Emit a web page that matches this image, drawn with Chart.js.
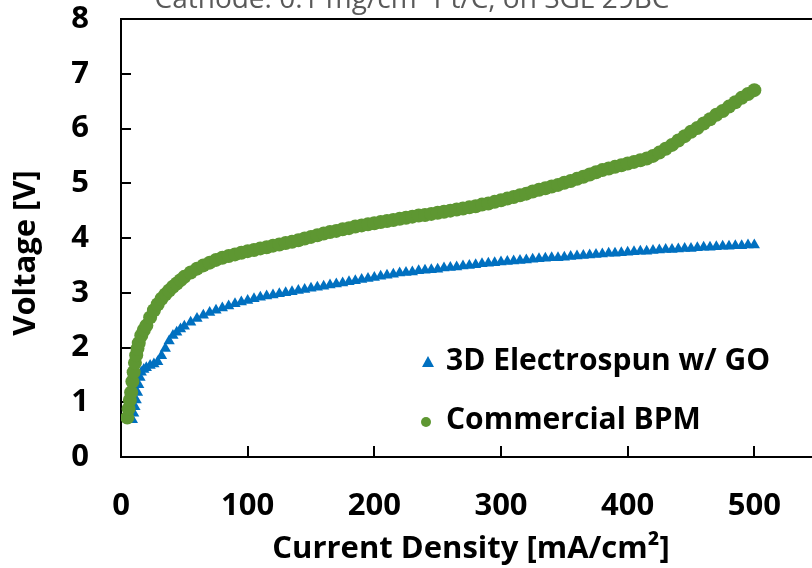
<!DOCTYPE html>
<html><head><meta charset="utf-8">
<script src="https://cdn.jsdelivr.net/npm/chart.js@4/dist/chart.umd.min.js"></script>
<style>html,body{margin:0;padding:0;background:#fff}#wrap{width:812px;height:568px;position:relative}</style>
</head><body><div id="wrap"><canvas id="c" width="812" height="568"></canvas></div>
<script>
const chartTitle = 'Cathode: 0.1 mg/cm² Pt/C, on SGL 29BC';
const xAxisTitle = 'Current Density [mA/cm²]';
const yAxisTitle = 'Voltage [V]';
const seriesNames = ['3D Electrospun w/ GO', 'Commercial BPM'];
const seriesColors = ['#0070C0', '#5E9732'];
const xTickValues = [0, 100, 200, 300, 400, 500];
const yTickValues = [0, 1, 2, 3, 4, 5, 6, 7, 8];

const currentGO = [9,10,11,12,13,14,15,16,18,20,23,26,29,32,35,38,41,44,47,50,55,60,65,70,75,80,85,90,95,100,105,110,115,120,125,130,135,140,145,150,155,160,165,170,175,180,185,190,195,200,205,210,215,220,225,230,235,240,245,250,255,260,265,270,275,280,285,290,295,300,305,310,315,320,325,330,335,340,345,350,355,360,365,370,375,380,385,390,395,400,405,410,415,420,425,430,435,440,445,450,455,460,465,470,475,480,485,490,495,500];
const voltageGO = [0.68,0.80,0.92,1.04,1.18,1.32,1.45,1.55,1.60,1.63,1.67,1.70,1.74,1.85,1.98,2.12,2.22,2.28,2.34,2.39,2.46,2.53,2.59,2.64,2.68,2.72,2.76,2.80,2.83,2.86,2.89,2.92,2.94,2.96,2.98,3.00,3.02,3.04,3.06,3.08,3.10,3.12,3.14,3.16,3.18,3.20,3.22,3.24,3.26,3.28,3.30,3.32,3.34,3.36,3.37,3.38,3.40,3.41,3.42,3.43,3.45,3.46,3.47,3.49,3.50,3.51,3.53,3.54,3.55,3.56,3.57,3.58,3.59,3.60,3.61,3.62,3.63,3.64,3.64,3.65,3.66,3.67,3.68,3.69,3.70,3.71,3.72,3.72,3.73,3.74,3.75,3.76,3.76,3.77,3.78,3.79,3.79,3.80,3.81,3.81,3.82,3.83,3.83,3.84,3.85,3.85,3.86,3.86,3.87,3.87];

const currentBPM = [5,6,7,8,9,10,11,12,13,14,16,18,20,23,26,29,32,35,38,41,44,47,50,55,60,65,70,75,80,85,90,95,100,105,110,115,120,125,130,135,140,145,150,155,160,165,170,175,180,185,190,195,200,205,210,215,220,225,230,235,240,245,250,255,260,265,270,275,280,285,290,295,300,305,310,315,320,325,330,335,340,345,350,355,360,365,370,375,380,385,390,395,400,405,410,415,420,425,430,435,440,445,450,455,460,465,470,475,480,485,490,495,500];
const voltageBPM = [0.72,0.88,1.04,1.18,1.38,1.55,1.72,1.86,1.98,2.08,2.22,2.32,2.40,2.55,2.68,2.79,2.89,2.97,3.04,3.11,3.17,3.23,3.29,3.37,3.44,3.50,3.55,3.60,3.64,3.67,3.70,3.73,3.76,3.78,3.81,3.83,3.86,3.88,3.91,3.93,3.96,3.99,4.02,4.05,4.08,4.11,4.13,4.16,4.18,4.21,4.23,4.25,4.27,4.29,4.31,4.33,4.35,4.37,4.39,4.41,4.42,4.44,4.46,4.48,4.50,4.52,4.54,4.56,4.58,4.61,4.63,4.66,4.69,4.72,4.75,4.78,4.81,4.85,4.88,4.91,4.94,4.97,5.01,5.04,5.08,5.12,5.16,5.20,5.24,5.27,5.30,5.33,5.36,5.39,5.42,5.45,5.50,5.56,5.63,5.70,5.78,5.86,5.94,6.01,6.09,6.17,6.25,6.32,6.40,6.48,6.56,6.63,6.70];

const toPoints = (xs, ys) => xs.map((x, i) => ({x: x, y: ys[i]}));

const FONT = '"Open Sans", Lato, sans-serif';

const decor = {
  id: 'decor',
  beforeDatasetsDraw(chart) {
    const {ctx, chartArea: a, scales: {x, y}} = chart;
    ctx.save();
    ctx.strokeStyle = '#000';
    ctx.lineWidth = 2;
    ctx.beginPath();
    ctx.moveTo(a.left, a.top); ctx.lineTo(812, a.top);
    ctx.moveTo(a.left, a.top - 1); ctx.lineTo(a.left, a.bottom + 1);
    ctx.moveTo(a.left - 1, a.bottom); ctx.lineTo(812, a.bottom);
    ctx.stroke();
    ctx.beginPath();
    xTickValues.forEach(v => {
      const px = Math.round(x.getPixelForValue(v));
      ctx.moveTo(px, a.bottom); ctx.lineTo(px, a.bottom - 11);
    });
    yTickValues.forEach(v => {
      const py = Math.round(y.getPixelForValue(v));
      ctx.moveTo(a.left, py); ctx.lineTo(a.left + 10, py);
    });
    ctx.stroke();
    ctx.restore();
  },
  afterDraw(chart) {
    const {ctx} = chart;
    ctx.save();
    ctx.fillStyle = '#595959';
    ctx.font = '28px ' + FONT;
    ctx.textAlign = 'center';
    ctx.textBaseline = 'alphabetic';
    ctx.fillText(chartTitle, 412, 8);
    ctx.fillStyle = '#000';
    ctx.font = 'bold 31px ' + FONT;
    ctx.textBaseline = 'middle';
    ctx.fillText(xAxisTitle, 471, 549);
    ctx.save();
    ctx.translate(26, 253);
    ctx.rotate(-Math.PI / 2);
    ctx.fillText(yAxisTitle, 0, 0);
    ctx.restore();
    ctx.font = 'bold 30px ' + FONT;
    ctx.textAlign = 'left';
    const lx = 428, ys = [361, 420];
    ctx.fillStyle = seriesColors[0];
    ctx.beginPath();
    ctx.moveTo(lx, ys[0] - 5); ctx.lineTo(lx + 6, ys[0] + 6); ctx.lineTo(lx - 6, ys[0] + 6); ctx.closePath();
    ctx.fill();
    ctx.fillStyle = seriesColors[1];
    ctx.beginPath();
    ctx.arc(lx - 2, ys[1] + 2, 5, 0, Math.PI * 2);
    ctx.fill();
    ctx.fillStyle = '#000';
    ctx.fillText(seriesNames[0], 446, ys[0]);
    ctx.fillText(seriesNames[1], 446, ys[1]);
    ctx.restore();
  }
};

const zeroPad = s => { s.paddingTop = 0; s.paddingBottom = 0; s.paddingLeft = 0; s.paddingRight = 0; };

new Chart(document.getElementById('c'), {
  type: 'scatter',
  data: {
    datasets: [
      {
        label: seriesNames[1],
        data: toPoints(currentBPM, voltageBPM),
        pointStyle: 'circle',
        pointRadius: 7,
        backgroundColor: seriesColors[1],
        borderWidth: 0,
        showLine: false
      },
      {
        label: seriesNames[0],
        data: toPoints(currentGO, voltageGO),
        pointStyle: 'triangle',
        pointRadius: 6.5,
        backgroundColor: seriesColors[0],
        borderWidth: 0,
        showLine: false
      }
    ]
  },
  options: {
    responsive: false,
    animation: false,
    devicePixelRatio: 1,
    layout: {padding: {top: 19, left: 0, right: 0, bottom: 0}},
    plugins: {legend: {display: false}, tooltip: {enabled: false}, title: {display: false}},
    scales: {
      x: {
        type: 'linear',
        min: 0,
        max: 540,
        afterBuildTicks: s => { s.ticks = xTickValues.map(v => ({value: v})); },
        afterFit: s => { s.height = 111; zeroPad(s); },
        grid: {display: false},
        border: {display: false},
        ticks: {color: '#000', font: {family: FONT, size: 31, weight: 'bold'}, padding: 23, maxRotation: 0, autoSkip: false}
      },
      y: {
        type: 'linear',
        min: 0,
        max: 8,
        afterBuildTicks: s => { s.ticks = yTickValues.map(v => ({value: v})); },
        afterFit: s => { s.width = 121; zeroPad(s); },
        grid: {display: false},
        border: {display: false},
        ticks: {color: '#000', font: {family: FONT, size: 31, weight: 'bold'}, padding: 24}
      }
    }
  },
  plugins: [decor]
});
</script>
</body></html>
